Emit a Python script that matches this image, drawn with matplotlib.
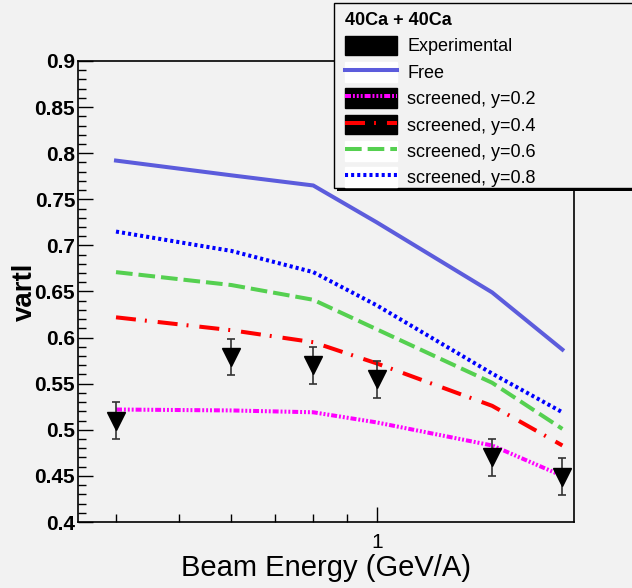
import matplotlib

matplotlib.use("Agg")
import matplotlib.pyplot as plt
from matplotlib.lines import Line2D
from matplotlib.patches import Patch, Rectangle
from matplotlib.ticker import FixedLocator, MultipleLocator, NullFormatter

# Beam energies (GeV/A)
energy = [0.4, 0.6, 0.8, 1.0, 1.5, 1.92]

# Experimental points
exp_val = [0.510, 0.579, 0.570, 0.555, 0.470, 0.449]
exp_err = [0.020, 0.020, 0.020, 0.020, 0.020, 0.020]

# Model curves
free = [0.792, 0.776, 0.765, 0.725, 0.649, 0.587]
scr_02 = [0.522, 0.521, 0.519, 0.508, 0.483, 0.450]
scr_04 = [0.622, 0.608, 0.595, 0.572, 0.526, 0.483]
scr_06 = [0.671, 0.657, 0.641, 0.609, 0.551, 0.501]
scr_08 = [0.715, 0.694, 0.671, 0.635, 0.561, 0.519]

y_major = [0.4, 0.45, 0.5, 0.55, 0.6, 0.65, 0.7, 0.75, 0.8, 0.85, 0.9]
y_labels = ["0.4", "0.45", "0.5", "0.55", "0.6", "0.65", "0.7", "0.75", "0.8", "0.85", "0.9"]
x_minor = [0.4, 0.5, 0.6, 0.7, 0.8, 0.9]

BG = "#f2f2f2"
W, H = 632, 588
plt.rcParams["font.family"] = ["Liberation Sans", "DejaVu Sans"]
plt.rcParams["lines.scale_dashes"] = False

fig = plt.figure(figsize=(W / 100, H / 100), dpi=100, facecolor=BG)
ax = fig.add_axes([78 / W, 1 - 522 / H, (574 - 78) / W, (522 - 61) / H])
ax.set_facecolor(BG)

lw = 2.9
styles = [
    (free, "#5c5cdc", "-", "Free", "white"),
    (scr_02, "#ff00ff", (0, (4.3, 1.4, 1.4, 1.4, 1.4, 1.4, 1.4, 1.4)), "screened, y=0.2", "black"),
    (scr_04, "#ff0000", (0, (14.4, 6.5, 1.4, 7.9)), "screened, y=0.4", "black"),
    (scr_06, "#55d050", (0, (12.0, 4.3)), "screened, y=0.6", "white"),
    (scr_08, "#0000ff", (0, (2.2, 2.2)), "screened, y=0.8", "white"),
]

handles = [Patch(facecolor="black", edgecolor="black")]
labels = ["Experimental"]
for vals, color, ls, label, box in styles:
    ax.plot(energy, vals, color=color, lw=lw, ls=ls, dash_capstyle="butt", zorder=2)
    handles.append((Patch(facecolor=box, edgecolor=box),
                    Line2D([], [], color=color, lw=lw, ls=ls, dash_capstyle="butt")))
    labels.append(label)

ax.errorbar(energy, exp_val, yerr=exp_err, fmt="v", color="black", ms=12.5,
            ecolor="#333333", elinewidth=1.2, capsize=3, capthick=1.2, zorder=3)

ax.set_xscale("log")
ax.set_xlim(0.35, 2.0)
ax.set_ylim(0.4, 0.9)

ax.xaxis.set_major_locator(FixedLocator([1.0]))
ax.xaxis.set_minor_locator(FixedLocator(x_minor))
ax.xaxis.set_minor_formatter(NullFormatter())
ax.set_xticklabels(["1"])
ax.yaxis.set_major_locator(FixedLocator(y_major))
ax.set_yticklabels(y_labels)
ax.yaxis.set_minor_locator(MultipleLocator(0.01))

ax.tick_params(axis="both", which="both", direction="in", top=False, right=False, color="black")
ax.tick_params(axis="y", which="major", length=11, width=1, pad=2, labelsize=15)
ax.tick_params(axis="y", which="minor", length=5.5, width=1)
ax.tick_params(axis="x", which="major", length=11, width=1, pad=8, labelsize=15)
ax.tick_params(axis="x", which="minor", length=6, width=1)
for t in ax.get_yticklabels():
    t.set_fontweight("bold")
for s in ax.spines.values():
    s.set_linewidth(1.2)

ax.set_xlabel("Beam Energy (GeV/A)", fontsize=21, labelpad=1)
ax.set_ylabel("vartl", fontsize=20, fontweight="bold")
ax.yaxis.set_label_coords(-0.08, 0.5)

# legend box with a ROOT-like drop shadow
fig.patches.append(Rectangle((337 / W, 1 - 191 / H), (660 - 337) / W, (191 - 6) / H,
                             transform=fig.transFigure, facecolor="black",
                             edgecolor="none", zorder=1))
fig.patches.append(Rectangle((334 / W, 1 - 188 / H), (650 - 334) / W, (188 - 3) / H,
                             transform=fig.transFigure, facecolor=BG,
                             edgecolor="black", lw=1.0, zorder=1.1))

fig.legend(handles, labels, loc="upper left",
           bbox_to_anchor=(336 / W, 1 - 3 / H, (650 - 336) / W, 0.0),
           mode="expand", title="40Ca + 40Ca", alignment="left",
           prop={"size": 13}, title_fontproperties={"size": 13, "weight": "bold"},
           handlelength=2.9, handleheight=1.3, handletextpad=0.55,
           labelspacing=0.36, borderpad=0.5, borderaxespad=0, frameon=False)

fig.savefig("out.png", dpi=100, facecolor=BG)
